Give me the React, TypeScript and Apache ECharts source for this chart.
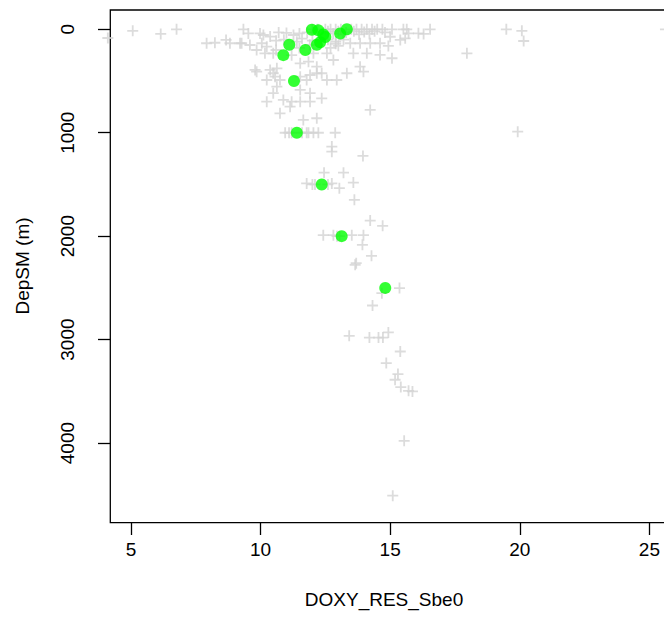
import React, { useEffect, useRef } from "react";
import * as echarts from "echarts";

const xTicks = [5, 10, 15, 20, 25];
const yTicks = [0, 1000, 2000, 3000, 4000];

const grayDoxy = [
  4.11, 5.07, 6.15, 6.76, 9.34, 9.53, 9.98, 10.11, 10.37, 11.27, 11.4,
  12.0, 12.2, 12.5, 12.7, 12.9, 13.1, 13.5, 13.7, 13.9, 14.1, 14.3, 14.5, 14.7, 15.07, 15.51, 15.64, 16.54, 19.48, 20.08, 25.62,
  12.6, 13.0, 13.3, 13.6, 14.0, 14.4, 14.8, 12.8, 13.2, 13.8, 14.2, 11.8, 11.5, 11.0, 10.7,
  15.0, 15.39, 15.71, 15.58, 16.29, 16.09, 17.96, 20.15,
  7.92, 8.24, 8.67, 8.82, 9.21, 9.27, 9.59, 10.05, 10.24, 9.85, 10.17, 10.49, 13.46, 13.84, 14.23, 14.61, 14.93, 13.58, 14.1, 14.61, 15.07, 12.81, 13.84, 13.97, 13.33, 12.04, 12.56, 11.85, 11.53, 12.17, 11.91, 12.36, 11.53,
  10.6, 10.9, 11.6, 12.0, 12.6, 12.9, 13.2, 13.0, 12.7, 11.9, 11.5, 11.2, 10.6, 12.9,
  9.79, 10.37, 10.63, 10.56, 9.85, 10.49, 10.24, 10.75, 11.78, 12.17, 12.56, 12.94,
  10.63, 11.53, 11.91, 10.49, 10.24, 10.88, 11.2, 11.53, 11.91, 12.36, 11.14, 10.75, 11.65, 12.17, 14.23,
  10.95, 11.1, 11.2, 11.6, 11.78, 11.85, 12.04, 12.23, 12.88, 19.92,
  12.75, 12.75, 13.95, 12.45, 13.2, 11.78, 12.0, 12.1, 12.6, 12.75, 13.04, 13.58, 13.62, 14.23, 14.71,
  12.42, 12.81, 12.95, 13.05, 13.52, 13.97, 13.93, 14.28, 13.69, 13.65,
  15.36, 14.68, 14.32, 13.42, 14.2, 14.55, 14.72, 14.93, 15.39, 14.85, 15.3, 15.19, 15.41, 15.71, 15.86, 15.54, 15.1,
];
const grayDepth = [
  84, 15, 45, 0, 0, 40, 40, 55, 70, 55, 120,
  0, 0, 0, 0, 0, 0, 0, 0, 0, 0, 0, 0, 0, 0, 0, 0, 0, 0, 15, 0,
  20, 20, 30, 20, 25, 20, 30, 40, 50, 50, 45, 30, 40, 35, 30,
  72, 103, 40, 87, 45, 39, 232, 113,
  135, 130, 103, 135, 135, 135, 152, 135, 168, 200, 232, 232, 135, 135, 135, 135, 161, 232, 232, 248, 280, 297, 361, 410, 425, 232, 232, 313, 329, 361, 442, 425, 458,
  110, 100, 90, 110, 100, 120, 100, 160, 180, 150, 180, 250, 200, 140,
  393, 393, 377, 458, 410, 425, 490, 490, 490, 425, 490, 490,
  555, 586, 618, 618, 700, 683, 700, 700, 700, 667, 748, 812, 876, 860, 780,
  1000, 1000, 1000, 1000, 1000, 1000, 1000, 1000, 1000, 990,
  1134, 1183, 1224, 1386, 1386, 1490, 1500, 1500, 1500, 1490, 1536, 1482, 1649, 1849, 1900,
  1990, 1990, 2000, 2000, 1990, 1990, 2084, 2190, 2261, 2277,
  2502, 2551, 2670, 2963, 2980, 2980, 2980, 2931, 3115, 3227, 3333, 3388, 3459, 3495, 3501, 3978, 4509,
];

const greenDoxy = [11.98, 12.23, 12.42, 12.5, 12.3, 12.17, 13.07, 13.33, 11.11, 10.88, 11.73, 11.29, 11.4, 12.36, 13.13, 14.81];
const greenDepth = [5, 10, 50, 75, 125, 150, 40, 0, 150, 250, 200, 500, 1000, 1500, 2000, 2500];

// plotting-region range (box) and the slightly larger range that also holds the tick marks
const X_MIN = 4.205;
const X_MAX = 26.5;
const Y_MIN = -186.5;
const Y_MAX = 4770;
const X_MIN_OUTER = 3.7306;
const Y_MAX_OUTER = 4888.9;

const FONT = "'Liberation Sans', Arial, sans-serif";

export default function App() {
  const ref = useRef<HTMLDivElement>(null);
  useEffect(() => {
    const chart = echarts.init(ref.current!, null, { renderer: "svg" });
    const gray = grayDoxy.map((v, i) => [v, grayDepth[i]]);
    const green = greenDoxy.map((v, i) => [v, greenDepth[i]]);
    const tickStyle = { color: "#000", width: 1.3 };
    chart.setOption({
      animation: false,
      backgroundColor: "#ffffff",
      grid: [
        { show: false, left: 98, top: 10, right: 11.7, bottom: 90, outerBoundsMode: "none" },
        {
          show: true,
          borderColor: "#000",
          borderWidth: 1.3,
          left: 110.3,
          top: 10,
          right: 11.7,
          bottom: 102.3,
          outerBoundsMode: "none",
        },
      ],
      xAxis: [
        {
          type: "value",
          gridIndex: 0,
          position: "bottom",
          min: X_MIN_OUTER,
          max: X_MAX,
          axisLine: { show: false, onZero: false },
          splitLine: { show: false },
          axisTick: { show: true, inside: true, length: 12.3, lineStyle: tickStyle, customValues: xTicks },
          axisLabel: { margin: 4.7, fontSize: 19, color: "#000", fontFamily: FONT, customValues: xTicks, formatter: (v: number) => String(v) },
        },
        { type: "value", gridIndex: 1, show: false, min: X_MIN, max: X_MAX },
      ],
      yAxis: [
        {
          type: "value",
          gridIndex: 0,
          position: "left",
          inverse: true,
          min: Y_MIN,
          max: Y_MAX_OUTER,
          axisLine: { show: false, onZero: false },
          splitLine: { show: false },
          axisTick: { show: true, inside: true, length: 12.3, lineStyle: tickStyle, customValues: yTicks },
          axisLabel: { rotate: 90, margin: 20.7, fontSize: 19, color: "#000", fontFamily: FONT, customValues: yTicks, formatter: (v: number) => String(v) },
        },
        { type: "value", gridIndex: 1, show: false, inverse: true, min: Y_MIN, max: Y_MAX },
      ],
      graphic: [
        {
          type: "text",
          x: 384,
          y: 599,
          style: { text: "DOXY_RES_Sbe0", fill: "#000", font: `19px ${FONT}`, textAlign: "center", textVerticalAlign: "middle" },
        },
        {
          type: "text",
          x: 22,
          y: 266,
          rotation: Math.PI / 2,
          style: { text: "DepSM (m)", fill: "#000", font: `19px ${FONT}`, textAlign: "center", textVerticalAlign: "middle" },
        },
      ],
      series: [
        {
          type: "scatter",
          xAxisIndex: 1,
          yAxisIndex: 1,
          clip: false,
          data: gray,
          symbol: "path://M0,5L10,5M5,0L5,10",
          symbolSize: 11,
          itemStyle: { color: "none", borderColor: "#D3D3D3", borderWidth: 1.8 },
        },
        {
          type: "scatter",
          xAxisIndex: 1,
          yAxisIndex: 1,
          clip: false,
          data: green,
          symbol: "circle",
          symbolSize: 12,
          itemStyle: { color: "#00FF00" },
        },
      ],
    });
    return () => chart.dispose();
  }, []);
  return (
    <div style={{ position: "fixed", left: 0, top: 0, width: 664, height: 625, overflow: "hidden", background: "#fff" }}>
      <div ref={ref} style={{ width: 700, height: 625 }} />
    </div>
  );
}
